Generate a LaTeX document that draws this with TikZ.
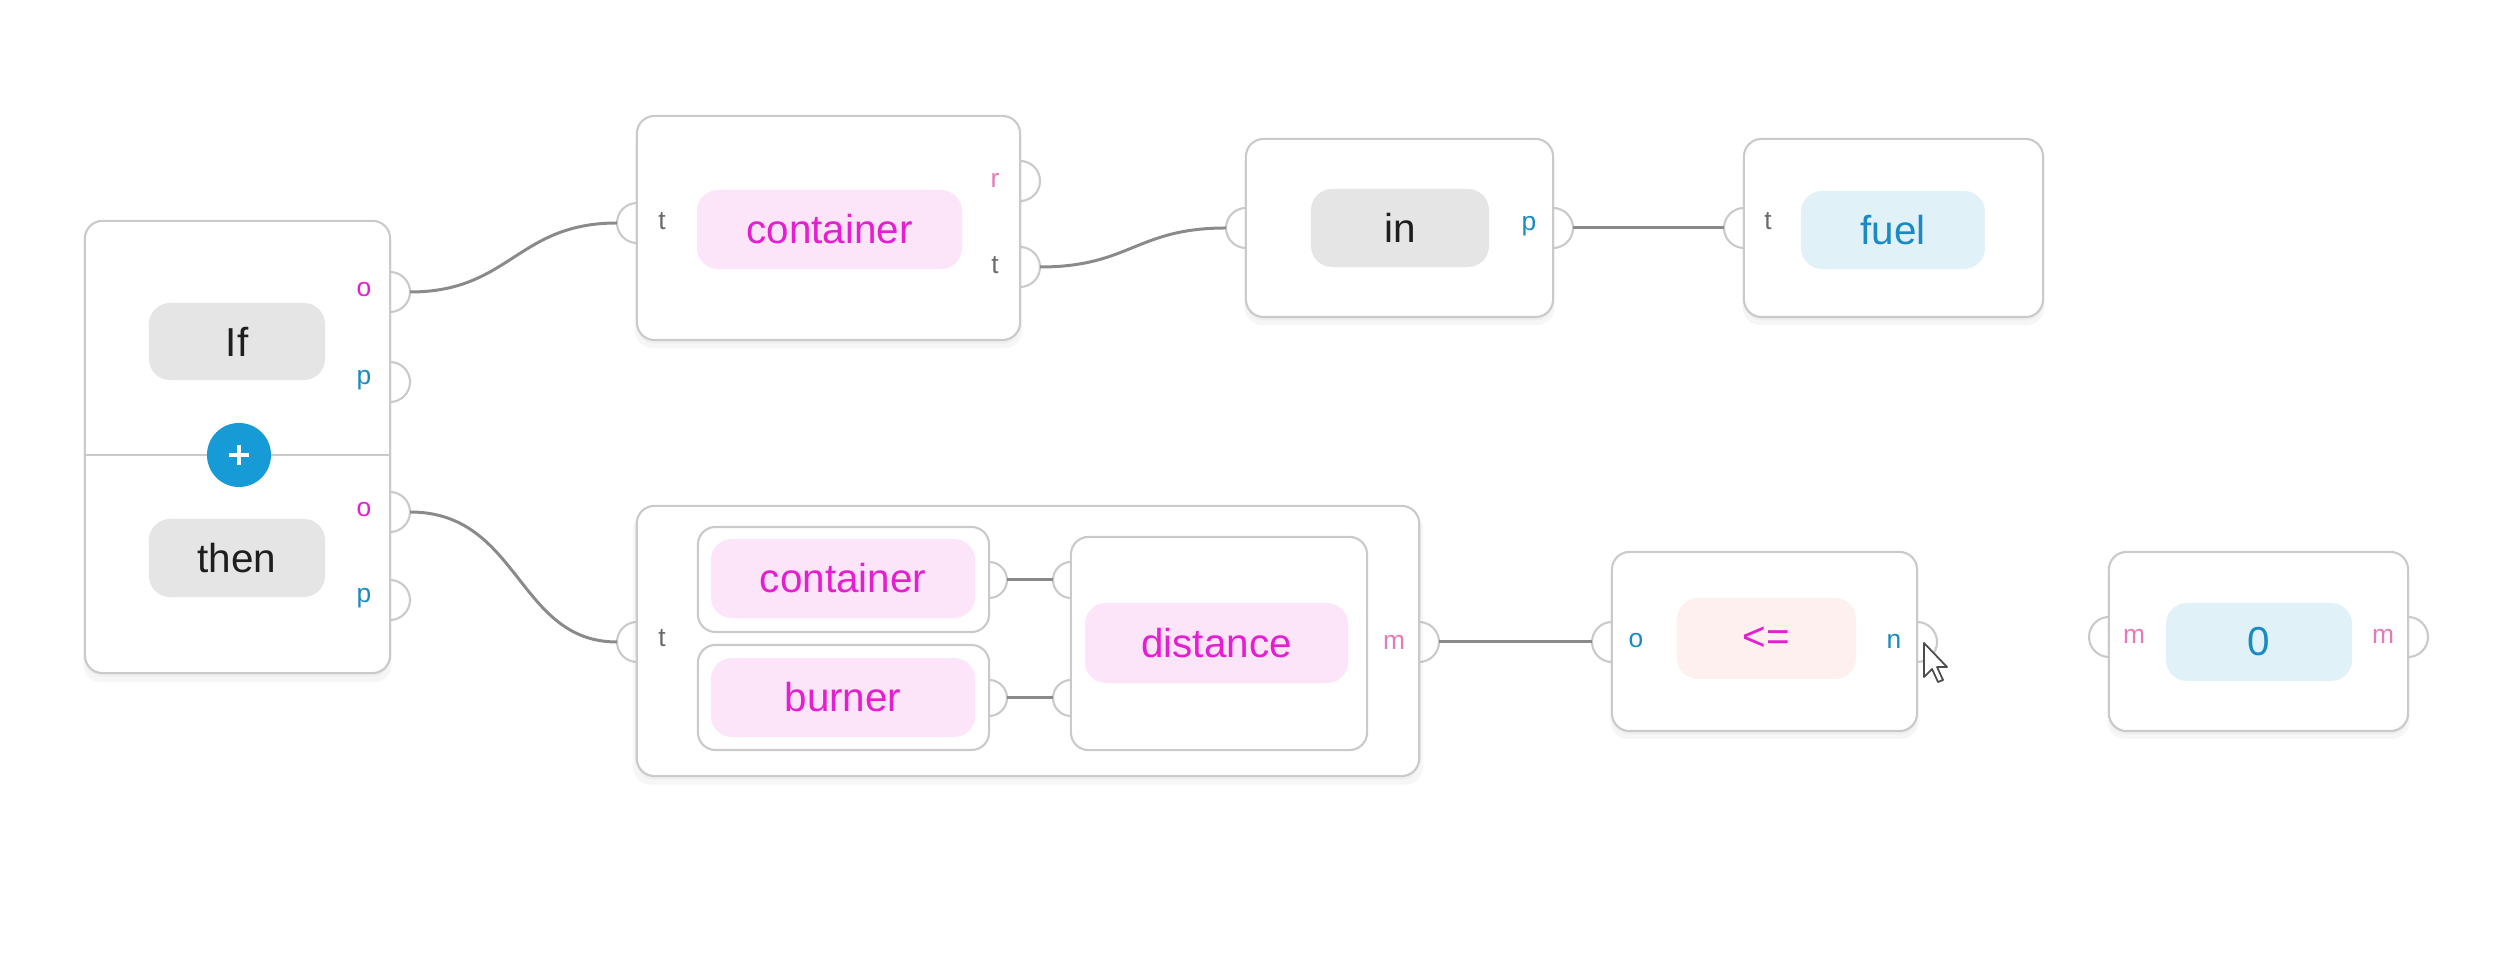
\documentclass[tikz,border=0pt]{standalone}
\usepackage{fontspec}
\setmainfont{Liberation Sans}
\usepackage{xcolor}
\usetikzlibrary{shadows,calc}

\definecolor{cardline}{HTML}{CACACA}
\definecolor{wiregrey}{HTML}{8A8A8A}
\definecolor{pillgrey}{HTML}{E5E5E5}
\definecolor{pillpink}{HTML}{FCE5F9}
\definecolor{pillblue}{HTML}{E1F1F8}
\definecolor{pillpeach}{HTML}{FDF0EF}
\definecolor{ink}{HTML}{1E1E1E}
\definecolor{magink}{HTML}{E61ED2}
\definecolor{blueink}{HTML}{1A8BC2}
\definecolor{greyink}{HTML}{6A6A6A}
\definecolor{pinkink}{HTML}{E57AB8}
\definecolor{plusblue}{HTML}{169BD7}

\begin{document}
\begin{tikzpicture}[x=0.01cm, y=-0.01cm,
    card/.style={draw=cardline, line width=0.6pt, fill=white, rounded corners=5pt,
        inner sep=0pt, outer sep=0pt,
        drop shadow={shadow xshift=0pt, shadow yshift=-2pt, shadow scale=1.01, opacity=0.07},
        drop shadow={shadow xshift=0pt, shadow yshift=-1pt, opacity=0.06}},
    subcard/.style={draw=cardline, line width=0.6pt, fill=white, rounded corners=5pt,
        inner sep=0pt, outer sep=0pt},
    port/.style={circle, draw=cardline, line width=0.6pt, fill=white,
        minimum size=0.4cm, inner sep=0pt, outer sep=0pt},
    subport/.style={port, minimum size=0.36cm},
    pill/.style={rounded corners=6pt, inner sep=0pt, font=\fontsize{11.5}{13}\selectfont},
    greypill/.style={pill, fill=pillgrey, text=ink},
    pinkpill/.style={pill, fill=pillpink, text=magink},
    bluepill/.style={pill, fill=pillblue, text=blueink},
    peachpill/.style={pill, fill=pillpeach, text=magink},
    plbl/.style={inner sep=0pt, font=\fontsize{7.5}{9}\selectfont},
    wire/.style={draw=wiregrey, line width=0.85pt},
]
    \useasboundingbox (0,0) rectangle (2500,977);

    % Ports of the outer cards
    \node[port] (ifO)   at (390,292) {};
    \node[port] (ifP)   at (390,382) {};
    \node[port] (thenO) at (390,512) {};
    \node[port] (thenP) at (390,600) {};
    \node[port] (c1T)   at (637,223) {};
    \node[port] (c1R)   at (1020,181) {};
    \node[port] (c1Out) at (1020,267) {};
    \node[port] (inL)   at (1246,228) {};
    \node[port] (inP)   at (1553,228) {};
    \node[port] (fuelT) at (1744,228) {};
    \node[port] (bigT)  at (637,642) {};
    \node[port] (bigM)  at (1419,642) {};
    \node[port] (leO)   at (1612,642) {};
    \node[port] (leN)   at (1917,642) {};
    \node[port] (zL)    at (2109,637) {};
    \node[port] (zR)    at (2408,637) {};

    % Cards
    \node[card, minimum width=3.05cm, minimum height=4.52cm] (ifthen) at (237.5,447) {};
    \node[card, minimum width=3.83cm, minimum height=2.24cm] (cont) at (828.5,228) {};
    \node[card, minimum width=3.07cm, minimum height=1.78cm] (inbox) at (1399.5,228) {};
    \node[card, minimum width=2.99cm, minimum height=1.78cm] (fuelbox) at (1893.5,228) {};
    \node[card, minimum width=7.82cm, minimum height=2.70cm] (big) at (1028,641) {};
    \node[card, minimum width=3.05cm, minimum height=1.79cm] (lebox) at (1764.5,641.5) {};
    \node[card, minimum width=2.99cm, minimum height=1.79cm] (zerobox) at (2258.5,641.5) {};

    % Inner cards of distance
    \node[subport] (c2P) at (989,580) {};
    \node[subport] (bnP) at (989,698) {};
    \node[subport] (dA)  at (1071,580) {};
    \node[subport] (dB)  at (1071,698) {};
    \node[subcard, minimum width=2.91cm, minimum height=1.05cm] (cont2) at (843.5,579.5) {};
    \node[subcard, minimum width=2.91cm, minimum height=1.05cm] (burner) at (843.5,697.5) {};
    \node[subcard, minimum width=2.96cm, minimum height=2.13cm] (dist) at (1219,643.5) {};

    % If / then
    \draw[cardline, line width=0.6pt] (ifthen.west |- 0,455) coordinate (divL)
        -- (ifthen.east |- divL);
    \node[greypill, minimum width=1.76cm, minimum height=0.77cm] (ifpill) at (237,341.5) {If};
    \node[greypill, minimum width=1.76cm, minimum height=0.78cm] (thenpill) at (237,558) {then};
    \node[circle, fill=plusblue, minimum size=0.64cm, inner sep=0pt] (plus) at (239,455) {};
    \draw[white, line width=1.2pt] ($(plus)+(-10,0)$) -- ($(plus)+(10,0)$)
        ($(plus)+(0,-10)$) -- ($(plus)+(0,10)$);

    % Pills
    \node[pinkpill, minimum width=2.65cm, minimum height=0.79cm] (contpill) at (829.5,229.5) {container};
    \node[greypill, minimum width=1.78cm, minimum height=0.78cm] (inpill) at (1400,228) {in};
    \node[bluepill, minimum width=1.84cm, minimum height=0.78cm] (fuelpill) at (1893,230) {fuel};
    \node[pinkpill, minimum width=2.64cm, minimum height=0.79cm] (cont2pill) at (843,578.5) {container};
    \node[pinkpill, minimum width=2.64cm, minimum height=0.79cm] (burnerpill) at (843,697.5) {burner};
    \node[pinkpill, minimum width=2.63cm, minimum height=0.80cm] (distpill) at (1216.5,643) {distance};
    \node[peachpill, minimum width=1.79cm, minimum height=0.81cm] (lepill) at (1766.5,638.5) {<=};
    \node[bluepill, minimum width=1.86cm, minimum height=0.78cm] (zeropill) at (2259,642) {0};

    % Port labels
    \node[plbl, text=magink]  (lblIfO)   at (364,290) {o};
    \node[plbl, text=blueink] (lblIfP)   at (364,380) {p};
    \node[plbl, text=magink]  (lblThenO) at (364,510) {o};
    \node[plbl, text=blueink] (lblThenP) at (364,598) {p};
    \node[plbl, text=greyink] (lblC1T)   at (662,221) {t};
    \node[plbl, text=pinkink] (lblC1R)   at (995,180) {r};
    \node[plbl, text=greyink] (lblC1Out) at (995,265) {t};
    \node[plbl, text=blueink] (lblInP)   at (1529,226) {p};
    \node[plbl, text=greyink] (lblFuelT) at (1768,221) {t};
    \node[plbl, text=greyink] (lblBigT)  at (662,638) {t};
    \node[plbl, text=pinkink] (lblBigM)  at (1394,642) {m};
    \node[plbl, text=blueink] (lblLeO)   at (1636,641) {o};
    \node[plbl, text=blueink] (lblLeN)   at (1894,641) {n};
    \node[plbl, text=pinkink] (lblZL)    at (2134,636) {m};
    \node[plbl, text=pinkink] (lblZR)    at (2383,636) {m};

    % Connectors
    \draw[wire] (ifO.east) .. controls +(100,0) and +(-100,0) .. (c1T.west);
    \draw[wire] (c1Out.east) .. controls +(90,0) and +(-90,0) .. (inL.west);
    \draw[wire] (inP.east) -- (fuelT.west);
    \draw[wire] (thenO.east) .. controls +(110,0) and +(-100,0) .. (bigT.west);
    \draw[wire] (bigM.east) -- (leO.west);
    \draw[wire] (c2P.east) -- (dA.west);
    \draw[wire] (bnP.east) -- (dB.west);

    % Mouse pointer
    \draw[fill=white, draw=black!70, line width=0.5pt, line join=round]
        (1924,643) -- ++(0,34) -- ++(8,-8) -- ++(6,13) -- ++(5,-2) -- ++(-6,-13) -- ++(10,0) -- cycle;
\end{tikzpicture}
\end{document}
